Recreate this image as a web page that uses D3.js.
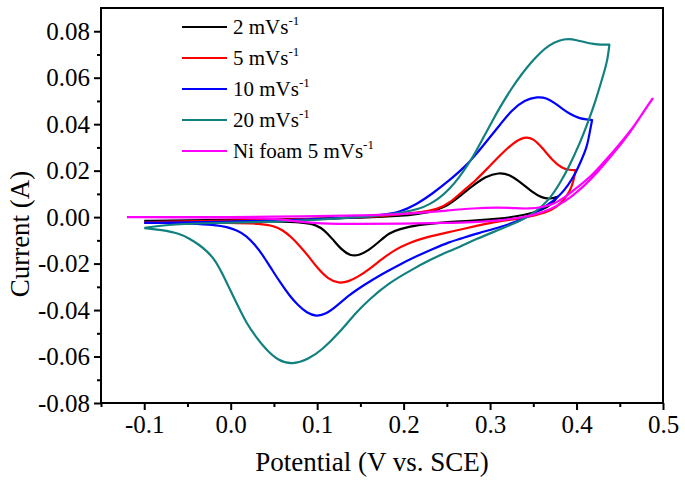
<!DOCTYPE html>
<html>
<head>
<meta charset="utf-8">
<script src="https://cdn.jsdelivr.net/npm/d3@7"></script>
<style>
  html, body { margin: 0; padding: 0; background: #fff; }
  svg text { font-family: "Liberation Serif", "Times New Roman", serif; fill: #000; }
</style>
</head>
<body>
<svg id="chart" width="685" height="483"></svg>
<script>
// =======================================================
// Datos: ciclovoltametrías [potencial (V), corriente (A)]
// =======================================================
const cv2 = [
  [-0.1,-0.0016],[-0.05,-0.0014],[0.0,-0.0012],[0.05,-0.001],[0.1,-0.0007],[0.15,-0.0003],
  [0.2,0.0005],[0.23,0.002],[0.25,0.0045],[0.265,0.009],[0.28,0.0135],[0.295,0.0175],
  [0.31,0.0192],[0.322,0.0184],[0.335,0.015],[0.348,0.011],[0.36,0.0082],[0.37,0.0078],[0.378,0.0088],
  [0.372,0.0055],[0.36,0.003],[0.34,0.0008],[0.31,-0.0008],[0.28,-0.0016],[0.253,-0.002],
  [0.214,-0.0034],[0.195,-0.0052],[0.183,-0.0068],[0.172,-0.0105],[0.16,-0.0142],[0.148,-0.0166],
  [0.138,-0.0166],[0.128,-0.014],[0.118,-0.0095],[0.108,-0.0055],[0.099,-0.0034],[0.085,-0.0022],
  [0.05,-0.0018],[0.0,-0.0017],[-0.05,-0.0017],[-0.1,-0.0018]
];

const cv5 = [
  [-0.1,-0.0022],[-0.05,-0.0018],[0.0,-0.0015],[0.05,-0.0012],[0.1,-0.0008],[0.15,-0.0002],
  [0.195,0.0012],[0.22,0.002],[0.24,0.0035],[0.253,0.006],[0.268,0.011],[0.284,0.016],
  [0.297,0.021],[0.31,0.026],[0.325,0.0315],[0.34,0.0348],[0.35,0.0338],[0.36,0.03],
  [0.372,0.0245],[0.383,0.021],[0.392,0.0203],[0.399,0.0202],
  [0.395,0.013],[0.388,0.0085],[0.378,0.0045],[0.365,0.0018],[0.337,-0.0005],[0.31,-0.0017],
  [0.287,-0.0035],[0.264,-0.0055],[0.253,-0.0064],[0.238,-0.0077],[0.22,-0.0093],[0.206,-0.0112],
  [0.19,-0.014],[0.175,-0.018],[0.16,-0.0225],[0.148,-0.0255],[0.136,-0.0278],[0.125,-0.0285],
  [0.113,-0.0268],[0.1,-0.0218],[0.09,-0.0168],[0.08,-0.0125],[0.07,-0.0085],[0.06,-0.0056],
  [0.05,-0.0038],[0.035,-0.0028],[0.0,-0.0024],[-0.05,-0.0024],[-0.1,-0.0025]
];

const cv10 = [
  [-0.1,-0.0025],[-0.05,-0.0022],[0.0,-0.0019],[0.05,-0.0015],[0.1,-0.0009],[0.15,0.0],
  [0.175,0.001],[0.195,0.002],[0.215,0.0055],[0.233,0.01],[0.252,0.0155],[0.272,0.022],
  [0.285,0.0275],[0.299,0.034],[0.312,0.04],[0.325,0.046],[0.34,0.0505],[0.355,0.0518],
  [0.365,0.0514],[0.375,0.049],[0.383,0.0468],[0.393,0.0442],[0.403,0.0425],[0.412,0.042],[0.418,0.0418],
  [0.415,0.036],[0.412,0.03],[0.405,0.024],[0.399,0.019],[0.39,0.0135],[0.379,0.0086],
  [0.365,0.0048],[0.35,0.0015],[0.337,-0.0012],[0.31,-0.0045],[0.287,-0.0068],[0.264,-0.0095],
  [0.253,-0.0107],[0.235,-0.0135],[0.214,-0.017],[0.195,-0.0205],[0.175,-0.0245],[0.155,-0.029],
  [0.137,-0.0335],[0.122,-0.0385],[0.11,-0.0418],[0.099,-0.0428],[0.088,-0.0412],[0.078,-0.038],
  [0.068,-0.0338],[0.058,-0.0285],[0.048,-0.0228],[0.038,-0.0168],[0.028,-0.0118],[0.018,-0.008],
  [0.008,-0.0057],[-0.005,-0.0042],[-0.016,-0.0034],[-0.047,-0.0027],[-0.08,-0.0024],[-0.1,-0.0024]
];

const cv20 = [
  [-0.1,-0.0047],[-0.085,-0.0038],[-0.06,-0.003],[-0.03,-0.0026],[0.0,-0.0024],[0.05,-0.002],
  [0.1,-0.0012],[0.15,0.0],[0.18,0.001],[0.2,0.002],[0.218,0.0035],[0.23,0.0055],[0.241,0.008],
  [0.253,0.012],[0.264,0.017],[0.275,0.0228],[0.284,0.0285],[0.293,0.0348],[0.302,0.041],
  [0.313,0.0483],[0.325,0.0555],[0.337,0.0618],[0.348,0.0668],[0.358,0.0708],[0.368,0.074],
  [0.38,0.0762],[0.391,0.0768],[0.4,0.0762],[0.41,0.0752],[0.42,0.0745],[0.428,0.0742],[0.438,0.0742],
  [0.436,0.068],[0.432,0.0625],[0.429,0.0588],[0.422,0.05],[0.414,0.0416],[0.403,0.031],
  [0.391,0.0215],[0.38,0.014],[0.368,0.0073],[0.352,0.002],[0.337,-0.0013],[0.31,-0.0055],
  [0.284,-0.0094],[0.264,-0.013],[0.253,-0.0145],[0.23,-0.0185],[0.21,-0.0225],[0.183,-0.0283],
  [0.16,-0.0355],[0.145,-0.041],[0.125,-0.05],[0.106,-0.057],[0.09,-0.0612],[0.071,-0.0635],
  [0.055,-0.0618],[0.041,-0.057],[0.03,-0.052],[0.018,-0.0455],[0.008,-0.038],[-0.001,-0.031],
  [-0.01,-0.024],[-0.018,-0.0185],[-0.027,-0.0148],[-0.036,-0.012],[-0.048,-0.0092],
  [-0.059,-0.0071],[-0.08,-0.0055],[-0.1,-0.0047]
];

const niFoam = [
  [-0.12,0.0],[-0.05,0.0],[0.0,0.0],[0.05,0.0002],[0.1,0.0004],[0.15,0.0007],[0.2,0.0012],
  [0.25,0.0028],[0.28,0.0038],[0.31,0.0042],[0.33,0.0038],[0.345,0.0036],[0.36,0.0042],
  [0.375,0.0058],[0.387,0.0086],[0.4,0.0125],[0.418,0.018],[0.43,0.023],[0.445,0.0292],
  [0.46,0.036],[0.468,0.04],[0.478,0.0455],[0.488,0.051],
  [0.48,0.0468],[0.468,0.0398],[0.455,0.033],[0.44,0.0262],[0.425,0.0196],[0.41,0.0138],
  [0.395,0.009],[0.38,0.0052],[0.36,0.0018],[0.34,0.0],[0.31,-0.0015],[0.28,-0.0022],
  [0.25,-0.0025],[0.2,-0.0028],[0.15,-0.003],[0.1,-0.0028],[0.08,-0.002],[0.06,-0.001],
  [0.03,-0.0004],[0.0,-0.0002],[-0.05,-0.0001],[-0.12,0.0]
];

// Series (orden de la leyenda)
const seriesNames = ["2 mVs", "5 mVs", "10 mVs", "20 mVs", "Ni foam 5 mVs"];
const seriesData = [cv2, cv5, cv10, cv20, niFoam];
const seriesColors = ["#000000", "#ff0000", "#0000ff", "#138080", "#ff00ff"];

// Ticks
const xMajor = [-0.1, 0.0, 0.1, 0.2, 0.3, 0.4, 0.5];
const xMinor = [-0.15, -0.05, 0.05, 0.15, 0.25, 0.35, 0.45];
const yMajor = [-0.08, -0.06, -0.04, -0.02, 0.0, 0.02, 0.04, 0.06, 0.08];
const yMinor = [-0.07, -0.05, -0.03, -0.01, 0.01, 0.03, 0.05, 0.07];

const FONT = '"Liberation Serif", "Times New Roman", serif';

// =======================================================
// Escalas y marco
// =======================================================
const svg = d3.select("#chart");
const plot = { left: 101, right: 663, top: 8, bottom: 403 };

const x = d3.scaleLinear().domain([-0.15, 0.5]).range([plot.left, plot.right]);
const y = d3.scaleLinear().domain([-0.08, 0.09]).range([plot.bottom, plot.top]);

const fmtX = v => d3.format(".1f")(v).replace("−", "-");
const fmtY = v => d3.format(".2f")(v).replace("−", "-");

// B-spline: el vértice de retorno (potencial máximo) se repite para que la curva pase por él
function conVertice(puntos) {
  const iMax = d3.maxIndex(puntos, d => d[0]);
  const p = puntos[iMax];
  return [...puntos.slice(0, iMax), p, p, ...puntos.slice(iMax)];
}

const line = d3.line()
  .x(d => x(d[0]))
  .y(d => y(d[1]))
  .curve(d3.curveBasis);

const gCurves = svg.append("g").attr("class", "curvas");
seriesData.forEach((d, i) => {
  gCurves.append("path")
    .datum(conVertice(d))
    .attr("d", line)
    .attr("fill", "none")
    .attr("stroke", seriesColors[i])
    .attr("stroke-width", 2.2)
    .attr("stroke-linejoin", "round");
});

// Marco
svg.append("rect")
  .attr("x", plot.left)
  .attr("y", plot.top)
  .attr("width", plot.right - plot.left)
  .attr("height", plot.bottom - plot.top)
  .attr("fill", "none")
  .attr("stroke", "#000")
  .attr("stroke-width", 2);

// Ejes
function styleAxis(g) {
  g.attr("font-family", FONT).attr("font-size", 25);
  g.select(".domain").remove();
  g.selectAll(".tick line").attr("stroke", "#000").attr("stroke-width", 2);
  g.selectAll(".tick text")
    .attr("fill", "#000")
    .style("font-family", FONT)
    .style("font-size", "25px");
}

svg.append("g")
  .attr("transform", `translate(0,${plot.bottom})`)
  .call(d3.axisBottom(x).tickValues(xMajor).tickSize(7).tickPadding(5).tickFormat(fmtX))
  .call(styleAxis);

svg.append("g")
  .attr("transform", `translate(0,${plot.bottom})`)
  .call(d3.axisBottom(x).tickValues(xMinor).tickSize(4).tickFormat(""))
  .call(styleAxis);

svg.append("g")
  .attr("transform", `translate(${plot.left},0)`)
  .call(d3.axisLeft(y).tickValues(yMajor).tickSize(7).tickPadding(4).tickFormat(fmtY))
  .call(styleAxis);

svg.append("g")
  .attr("transform", `translate(${plot.left},0)`)
  .call(d3.axisLeft(y).tickValues(yMinor).tickSize(4).tickFormat(""))
  .call(styleAxis);

// Títulos de ejes
svg.append("text")
  .attr("x", 372)
  .attr("y", 471)
  .attr("text-anchor", "middle")
  .style("font-size", "27px")
  .text("Potential (V vs. SCE)");

svg.append("text")
  .attr("transform", "translate(29,234) rotate(-90)")
  .attr("text-anchor", "middle")
  .style("font-size", "27px")
  .text("Current (A)");

// =======================================================
// Leyenda
// =======================================================
const leg = svg.append("g").attr("class", "leyenda").attr("transform", "translate(182,27)");
seriesNames.forEach((name, i) => {
  const row = leg.append("g").attr("transform", `translate(0,${i * 31})`);
  row.append("line")
    .attr("x1", 0).attr("x2", 45)
    .attr("y1", 0).attr("y2", 0)
    .attr("stroke", seriesColors[i])
    .attr("stroke-width", 2.2);
  const t = row.append("text")
    .attr("x", 51)
    .attr("y", 7)
    .style("font-size", "21px");
  t.append("tspan").text(name);
  t.append("tspan")
    .attr("dy", -9)
    .style("font-size", "13px")
    .text("-1");
});
</script>
</body>
</html>
